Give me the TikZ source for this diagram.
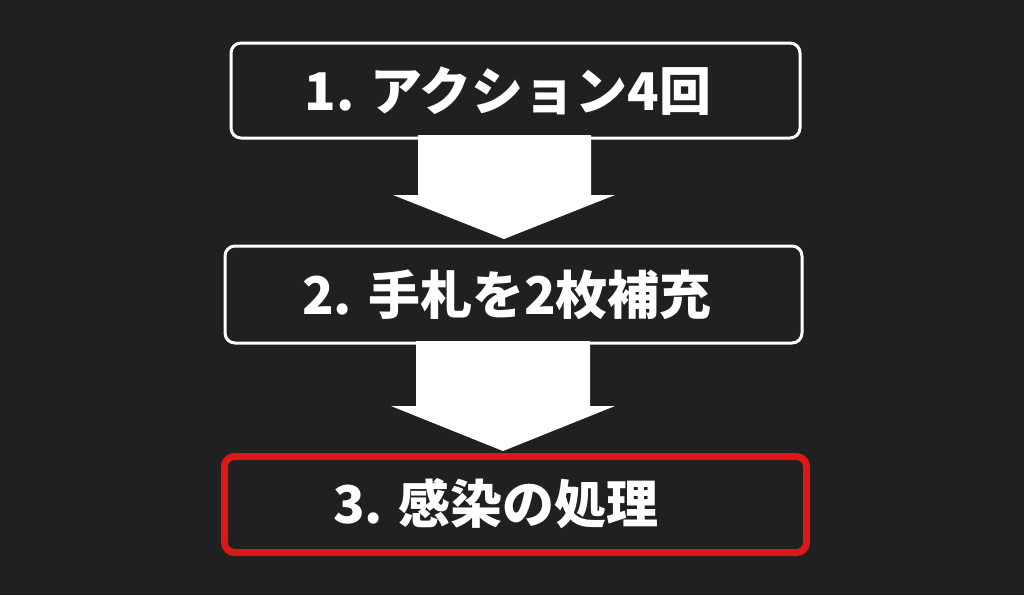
\documentclass[tikz,border=0pt]{standalone}
\usepackage{fontspec}
\newfontfamily\jp{Noto Sans CJK JP}
\definecolor{bg}{HTML}{202020}
\definecolor{redb}{HTML}{DD1818}
\begin{document}
\begin{tikzpicture}[x=1pt,y=-1pt,
  stepbox/.style={draw=white, line width=3pt, rounded corners=10pt, fill=bg,
    inner sep=0pt},
  steptext/.style={text=white, font=\jp\bfseries\fontsize{52}{56}\selectfont, inner sep=0pt},
  blockarrow/.style={fill=white}]
\useasboundingbox (0,0) rectangle (1024,595);
\fill[bg] (0,0) rectangle (1024,595);
\node[stepbox, minimum width=569pt, minimum height=95pt] (b1) at (515.5,90.5) {};
\node[stepbox, minimum width=577pt, minimum height=97pt] (b2) at (513.5,294.5) {};
\node[stepbox, draw=redb, line width=7pt, minimum width=582pt, minimum height=96pt] (b3) at (515.5,504.5) {};
\node[steptext] (t1) at (508,91) {1. アクション4回};
\node[steptext] (t2) at (507,295) {2. 手札を2枚補充};
\node[steptext] (t3) at (496,504) {3. 感染の処理};
% arrow 1
\fill[blockarrow] (418,135) -- (591,135) -- (591,195) -- (615,195) -- (504,239) -- (393,195) -- (418,195) -- cycle;
% arrow 2
\fill[blockarrow] (416,341) -- (590,341) -- (590,406) -- (615,406) -- (503,451) -- (391,406) -- (416,406) -- cycle;
\end{tikzpicture}
\end{document}
